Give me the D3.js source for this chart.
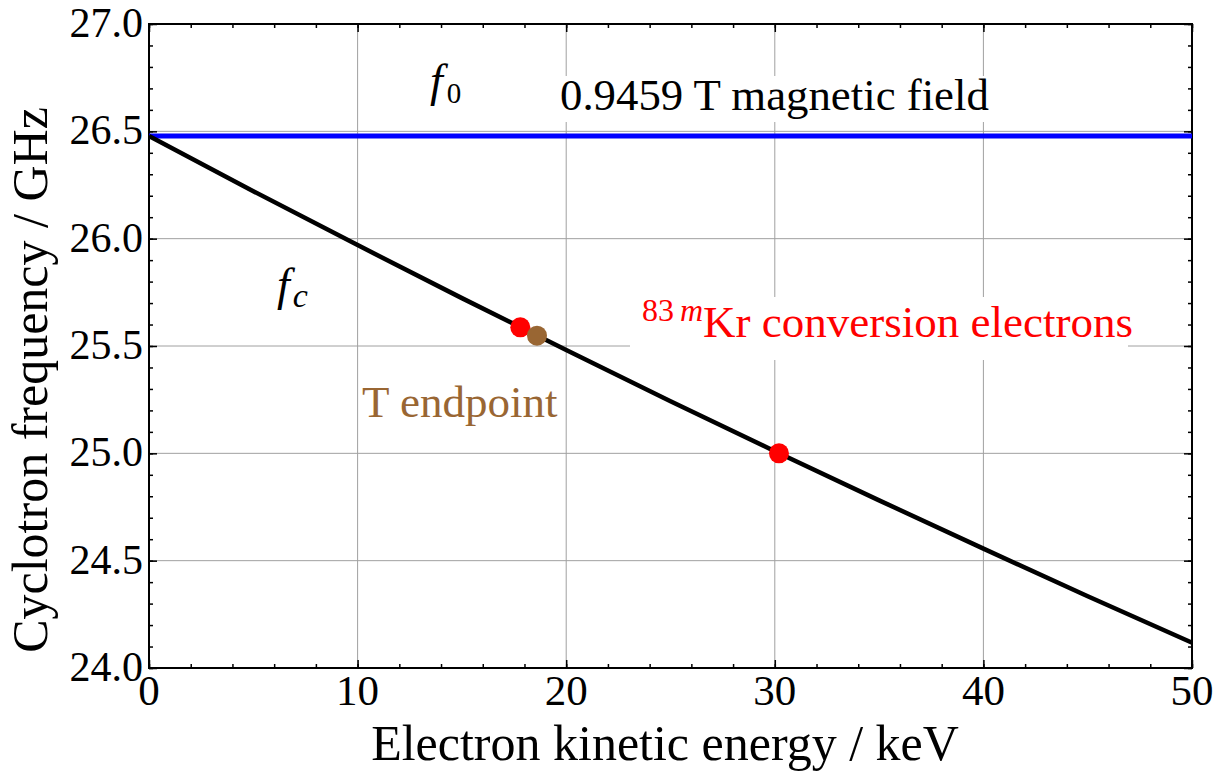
<!DOCTYPE html>
<html>
<head>
<meta charset="utf-8">
<script src="https://cdn.jsdelivr.net/npm/d3@7/dist/d3.min.js"></script>
<style>
  html, body { margin: 0; padding: 0; background: #fff; }
  svg { display: block; }
  text { font-family: "Liberation Serif", "Times New Roman", serif; }
</style>
</head>
<body>
<svg id="chart" width="1215" height="774"></svg>
<script>
// Electron kinetic energy (keV) and cyclotron frequency (GHz)
const energyKeV = [0, 5, 10, 15, 20, 25, 30, 35, 40, 45, 50];
const cyclotronGHz = [26.478, 26.221, 25.970, 25.723, 25.481, 25.243, 25.010, 24.781, 24.556, 24.334, 24.118];

// Non-relativistic cyclotron frequency f0 at 0.9459 T
const f0GHz = 26.478;

// 83mKr conversion-electron lines and the tritium endpoint
const krEnergyKeV = [17.8, 30.2];
const krFreqGHz = [25.587, 25.000];
const tEndpointKeV = [18.6];
const tEndpointGHz = [25.548];

const xTicks = [0, 10, 20, 30, 40, 50];
const yTicks = [24.0, 24.5, 25.0, 25.5, 26.0, 26.5, 27.0];

const svg = d3.select("#chart");
const plotL = 149, plotR = 1192, plotT = 24, plotB = 668;

const x = d3.scaleLinear().domain([0, 50]).range([plotL, plotR]);
const y = d3.scaleLinear().domain([24, 27]).range([plotB, plotT]);

const gridColor = "#a0a0a0";
const brown = "#996633";

// grid lines
svg.append("g").selectAll("line")
  .data(xTicks.slice(1, -1)).join("line")
  .attr("x1", d => x(d)).attr("x2", d => x(d))
  .attr("y1", plotT).attr("y2", plotB)
  .attr("stroke", gridColor).attr("stroke-width", 1);
svg.append("g").selectAll("line")
  .data(yTicks.slice(1, -1)).join("line")
  .attr("x1", plotL).attr("x2", plotR)
  .attr("y1", d => y(d)).attr("y2", d => y(d))
  .attr("stroke", gridColor).attr("stroke-width", 1);

// white backing behind the in-plot labels
svg.append("rect").attr("x", 553).attr("y", 76).attr("width", 440).attr("height", 46).attr("fill", "#fff");
svg.append("rect").attr("x", 630).attr("y", 297).attr("width", 498).attr("height", 63).attr("fill", "#fff");

// axes with inward ticks on all four sides
function frameAxis(axis, tr) {
  const g = svg.append("g").attr("transform", tr).call(axis);
  g.select(".domain").remove();
  g.selectAll("line").attr("stroke", "#000").attr("stroke-width", 1.5);
  return g;
}
const xMinor = d3.range(0, 50.001, 2);
const yMinor = d3.range(24, 27.001, 0.1);

frameAxis(d3.axisBottom(x).tickValues(xMinor).tickSize(-4).tickFormat(""), `translate(0,${plotB})`);
frameAxis(d3.axisBottom(x).tickValues(xTicks).tickSize(-8).tickFormat(""), `translate(0,${plotB})`);
frameAxis(d3.axisTop(x).tickValues(xMinor).tickSize(-4).tickFormat(""), `translate(0,${plotT})`);
frameAxis(d3.axisTop(x).tickValues(xTicks).tickSize(-8).tickFormat(""), `translate(0,${plotT})`);
frameAxis(d3.axisLeft(y).tickValues(yMinor).tickSize(-4).tickFormat(""), `translate(${plotL},0)`);
frameAxis(d3.axisLeft(y).tickValues(yTicks).tickSize(-8).tickFormat(""), `translate(${plotL},0)`);
frameAxis(d3.axisRight(y).tickValues(yMinor).tickSize(-4).tickFormat(""), `translate(${plotR},0)`);
frameAxis(d3.axisRight(y).tickValues(yTicks).tickSize(-8).tickFormat(""), `translate(${plotR},0)`);

// tick labels
svg.append("g").selectAll("text").data(xTicks).join("text")
  .attr("x", d => x(d)).attr("y", 705)
  .attr("text-anchor", "middle").attr("font-size", 43)
  .text(d => d3.format("d")(d));
svg.append("g").selectAll("text").data(yTicks).join("text")
  .attr("x", 143).attr("y", d => y(d) + 13)
  .attr("text-anchor", "end").attr("font-size", 42)
  .text(d => d3.format(".1f")(d));

// frame
svg.append("rect").attr("x", plotL).attr("y", plotT)
  .attr("width", plotR - plotL).attr("height", plotB - plotT)
  .attr("fill", "none").attr("stroke", "#000").attr("stroke-width", 2);

// f0 line
svg.append("line")
  .attr("x1", x(0)).attr("x2", x(50))
  .attr("y1", y(f0GHz)).attr("y2", y(f0GHz))
  .attr("stroke", "#0000ff").attr("stroke-width", 5);

// fc curve
const pts = energyKeV.map((e, i) => [e, cyclotronGHz[i]]);
svg.append("path")
  .datum(pts)
  .attr("d", d3.line().x(d => x(d[0])).y(d => y(d[1])).curve(d3.curveMonotoneX))
  .attr("fill", "none").attr("stroke", "#000").attr("stroke-width", 4.5);

// markers
svg.append("g").selectAll("circle").data(krEnergyKeV).join("circle")
  .attr("cx", d => x(d)).attr("cy", (d, i) => y(krFreqGHz[i]))
  .attr("r", 10).attr("fill", "#ff0000");
svg.append("g").selectAll("circle").data(tEndpointKeV).join("circle")
  .attr("cx", d => x(d)).attr("cy", (d, i) => y(tEndpointGHz[i]))
  .attr("r", 10).attr("fill", brown);

// in-plot labels
const f0Label = svg.append("text").attr("x", 430).attr("y", 96).attr("font-size", 46);
f0Label.append("tspan").attr("font-style", "italic").text("f");
f0Label.append("tspan").attr("font-size", 29).attr("dx", 4).attr("dy", 7).text("0");

const fcLabel = svg.append("text").attr("x", 277).attr("y", 300).attr("font-size", 46);
fcLabel.append("tspan").attr("font-style", "italic").text("f");
fcLabel.append("tspan").attr("font-style", "italic").attr("font-size", 34).attr("dx", 3).attr("dy", 7).text("c");

svg.append("text").attr("x", 560).attr("y", 110).attr("font-size", 44.8)
  .text("0.9459 T magnetic field");

const kr = svg.append("text").attr("x", 642).attr("y", 337).attr("font-size", 45)
  .attr("fill", "#ff0000");
kr.append("tspan").attr("font-size", 32).attr("dy", -16).text("83");
kr.append("tspan").attr("font-size", 32).attr("font-style", "italic").attr("dx", 6).text("m");
kr.append("tspan").attr("dy", 16).text("Kr conversion electrons");

svg.append("text").attr("x", 362).attr("y", 417).attr("font-size", 45).attr("fill", brown)
  .text("T endpoint");

// axis titles
svg.append("text").attr("x", 665).attr("y", 760)
  .attr("text-anchor", "middle").attr("font-size", 50)
  .text("Electron kinetic energy / keV");
svg.append("text")
  .attr("transform", "translate(47,380) rotate(-90)")
  .attr("text-anchor", "middle").attr("font-size", 50)
  .text("Cyclotron frequency / GHz");
</script>
</body>
</html>
